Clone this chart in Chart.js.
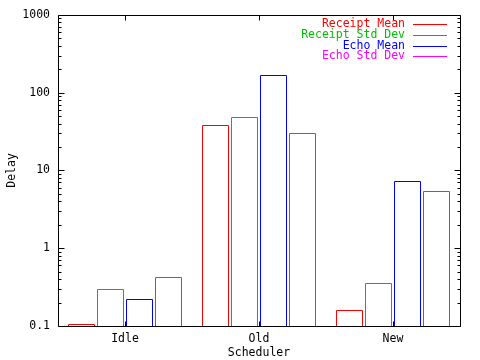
<!DOCTYPE html>
<html>
<head>
<meta charset="utf-8">
<script src="https://cdn.jsdelivr.net/npm/chart.js@4"></script>
<style>
html,body{margin:0;padding:0;background:#fff;}
#wrap{width:480px;height:360px;}
</style>
</head>
<body>
<div id="wrap"><canvas id="c" width="480" height="360"></canvas></div>
<script>
const categories = ['Idle', 'Old', 'New'];
const seriesNames = ['Receipt Mean', 'Receipt Std Dev', 'Echo Mean', 'Echo Std Dev'];
const seriesColors = ['#ff0000', '#00c000', '#0000ff', '#ff00ff'];
const receiptMean = [0.105, 38, 0.16];
const receiptStd = [0.30, 48, 0.36];
const echoMean = [0.225, 168, 7.3];
const echoStd = [0.43, 30, 5.4];
const yTickValues = [0.1, 1, 10, 100, 1000];
const yTickLabels = ['0.1', '1', '10', '100', '1000'];

const FONT = "'DejaVu Sans Mono', monospace";
const FS = 11.5;

const seriesValues = [receiptMean, receiptStd, echoMean, echoStd];

const outlinePlugin = {
  id: 'outlines',
  afterDatasetsDraw(chart) {
    const ctx = chart.ctx;
    ctx.save();
    ctx.lineWidth = 1;
    chart.data.datasets.forEach((ds, di) => {
      const meta = chart.getDatasetMeta(di);
      ctx.strokeStyle = ds.outlineColor;
      meta.data.forEach(el => {
        const p = el.getProps(['x', 'y', 'base', 'width'], true);
        const l = Math.round(p.x - p.width / 2) + 0.5;
        const r = Math.round(p.x + p.width / 2) - 0.5;
        const t = Math.round(p.y) + 0.5;
        const b = Math.round(p.base) + 0.5;
        ctx.beginPath();
        ctx.moveTo(l, b); ctx.lineTo(l, t); ctx.lineTo(r, t); ctx.lineTo(r, b);
        ctx.stroke();
      });
    });
    ctx.restore();
  }
};

const framePlugin = {
  id: 'frame',
  afterDraw(chart) {
    const ctx = chart.ctx;
    const a = chart.chartArea;
    const y = chart.scales.y, x = chart.scales.x;
    const L = Math.round(a.left) + 0.5, R = Math.round(a.right) + 0.5;
    const T = Math.round(a.top) + 0.5, B = Math.round(a.bottom) + 0.5;
    ctx.save();
    ctx.strokeStyle = '#000';
    ctx.lineWidth = 1;
    ctx.beginPath();
    for (let i = 0; i < yTickValues.length; i++) {
      const v = yTickValues[i];
      const py = Math.round(y.getPixelForValue(v)) + 0.5;
      ctx.moveTo(L, py); ctx.lineTo(L + 6, py);
      ctx.moveTo(R, py); ctx.lineTo(R - 6, py);
      if (i < yTickValues.length - 1) {
        for (let k = 2; k <= 9; k++) {
          const my = Math.round(y.getPixelForValue(v * k)) + 0.5;
          ctx.moveTo(L, my); ctx.lineTo(L + 3, my);
          ctx.moveTo(R, my); ctx.lineTo(R - 3, my);
        }
      }
    }
    for (let i = 0; i < categories.length; i++) {
      const px = Math.round(x.getPixelForValue(i)) + 0.5;
      ctx.moveTo(px, B); ctx.lineTo(px, B - 5);
      ctx.moveTo(px, T); ctx.lineTo(px, T + 5);
    }
    ctx.rect(L, T, R - L, B - T);
    ctx.stroke();

    ctx.font = FS + 'px ' + FONT;
    ctx.textAlign = 'right';
    ctx.textBaseline = 'middle';
    chart.data.datasets.forEach((ds, i) => {
      const ly = 24 + i * 10.8;
      ctx.fillStyle = ds.outlineColor;
      ctx.fillText(ds.label, 405, ly);
      ctx.strokeStyle = ds.outlineColor;
      ctx.beginPath();
      const yy = Math.round(ly) + 0.5;
      ctx.moveTo(413, yy); ctx.lineTo(447, yy);
      ctx.stroke();
    });
    ctx.restore();
  }
};

new Chart(document.getElementById('c'), {
  type: 'bar',
  data: {
    labels: categories,
    datasets: seriesNames.map((n, i) => ({
      label: n,
      data: seriesValues[i],
      outlineColor: seriesColors[i],
      backgroundColor: 'rgba(0,0,0,0)',
      borderColor: 'rgba(0,0,0,0)',
      borderWidth: 0,
      categoryPercentage: 0.87,
      barPercentage: 0.93
    }))
  },
  options: {
    responsive: false,
    animation: false,
    devicePixelRatio: 1,
    layout: { padding: { top: 14, right: 20, left: 0, bottom: 0 } },
    plugins: { legend: { display: false }, tooltip: { enabled: false } },
    scales: {
      x: {
        grid: { display: false, drawTicks: false },
        border: { display: false },
        ticks: { color: '#000', font: { family: FONT, size: FS }, padding: 6, maxRotation: 0 },
        title: { display: true, text: 'Scheduler', color: '#000', font: { family: FONT, size: FS }, padding: 0 },
        afterFit(s) { s.height = 34; }
      },
      y: {
        type: 'logarithmic',
        min: 0.1,
        max: 1000,
        grid: { display: false, drawTicks: false },
        border: { display: false },
        afterBuildTicks(s) { s.ticks = yTickValues.map(v => ({ value: v })); },
        ticks: {
          color: '#000',
          font: { family: FONT, size: FS },
          padding: 8,
          autoSkip: false,
          callback(v) { const i = yTickValues.indexOf(v); return i >= 0 ? yTickLabels[i] : ''; }
        },
        title: { display: true, text: 'Delay', color: '#000', font: { family: FONT, size: FS }, padding: 5 },
        afterFit(s) { s.width = 58; }
      }
    }
  },
  plugins: [outlinePlugin, framePlugin]
});
</script>
</body>
</html>
